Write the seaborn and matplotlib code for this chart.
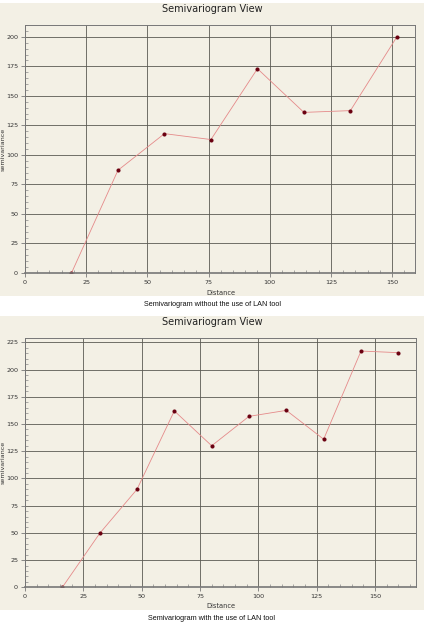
import matplotlib
matplotlib.use("Agg")
import matplotlib.pyplot as plt
from matplotlib.patches import Rectangle
from matplotlib.ticker import MultipleLocator
import pandas as pd
import seaborn as sns

# values
dist_without = [19, 38, 57, 76, 95, 114, 133, 152]
semi_without = [0, 87, 118, 113, 173, 136, 137.5, 200]

dist_with = [16, 32, 48, 64, 80, 96, 112, 128, 144, 160]
semi_with = [0, 49.5, 90, 162, 130, 157, 162.5, 136, 217, 215.5]

titles = ["Semivariogram View", "Semivariogram View"]
captions = ["Semivariogram without the use of LAN tool",
            "Semivariogram with the use of LAN tool"]

sns.set_style("white")
plt.rcParams["font.family"] = ["DejaVu Sans"]

BEIGE = "#f3f0e5"
W, H = 424, 622
fig = plt.figure(figsize=(W / 100, H / 100), dpi=100)
fig.patch.set_facecolor("white")


def fy(px):
    return 1 - px / H


def draw_panel(df, panel_top, panel_bot, ax_rect, xlim, ylim, title_y,
               xlabel_y, caption_y, caption, title):
    # beige window background, kept behind the axes
    fig.patches.append(Rectangle((0, fy(panel_bot)), 1, (panel_bot - panel_top) / H,
                                 transform=fig.transFigure, facecolor=BEIGE,
                                 edgecolor="none", zorder=-5))
    fig.text(0.5, fy(title_y), title, ha="center", va="center", fontsize=7,
             color="#222222")
    ax = fig.add_axes(ax_rect)
    ax.set_facecolor(BEIGE)
    sns.lineplot(data=df, x="Distance", y="semivariance", ax=ax,
                 color="#e58a8a", linewidth=0.6, marker="o", markersize=2.2,
                 markerfacecolor="#6a0010", markeredgecolor="#6a0010")
    ax.set_xlim(*xlim)
    ax.set_ylim(*ylim)
    ax.xaxis.set_major_locator(MultipleLocator(25))
    ax.yaxis.set_major_locator(MultipleLocator(25))
    ax.xaxis.set_minor_locator(MultipleLocator(5))
    ax.yaxis.set_minor_locator(MultipleLocator(5))
    ax.grid(True, which="major", color="#5a5a52", linewidth=0.6)
    ax.tick_params(axis="both", which="both", bottom=True, left=True,
                   top=False, right=False)
    ax.tick_params(axis="both", which="major", direction="out", length=3,
                   width=0.6, color="#777777", labelsize=4.6, pad=2,
                   labelcolor="#333333")
    ax.tick_params(axis="both", which="minor", direction="in", length=2.5,
                   width=0.5, color="#888888")
    for side, sp in ax.spines.items():
        sp.set_color("#777777")
        sp.set_linewidth(0.7)
    ax.spines["bottom"].set_linewidth(1.2)
    ax.set_xlabel("")
    ax.set_ylabel("semivariance", fontsize=4.6, color="#333333")
    ax.yaxis.set_label_coords(-0.05, 0.5)
    fig.text(0.52, fy(xlabel_y), "Distance", ha="center", va="center",
             fontsize=4.8, color="#333333")
    fig.text(0.5, fy(caption_y), caption, ha="center", va="center",
             fontsize=5.2, color="#111111", family=["Liberation Sans"])
    return ax


df_without = pd.DataFrame({"Distance": dist_without, "semivariance": semi_without})
df_with = pd.DataFrame({"Distance": dist_with, "semivariance": semi_with})

draw_panel(df_without, 3, 296,
           [25 / W, fy(273), (415 - 25) / W, (273 - 25) / H],
           (0, 159.4), (0, 210), 9, 293, 305, captions[0], titles[0])

draw_panel(df_with, 316, 610,
           [25 / W, fy(587.3), (416.3 - 25) / W, (587.3 - 338.3) / H],
           (0, 167.7), (0, 228.7), 322, 606, 618, captions[1], titles[1])

fig.savefig("out.png", dpi=100, facecolor=fig.get_facecolor())
